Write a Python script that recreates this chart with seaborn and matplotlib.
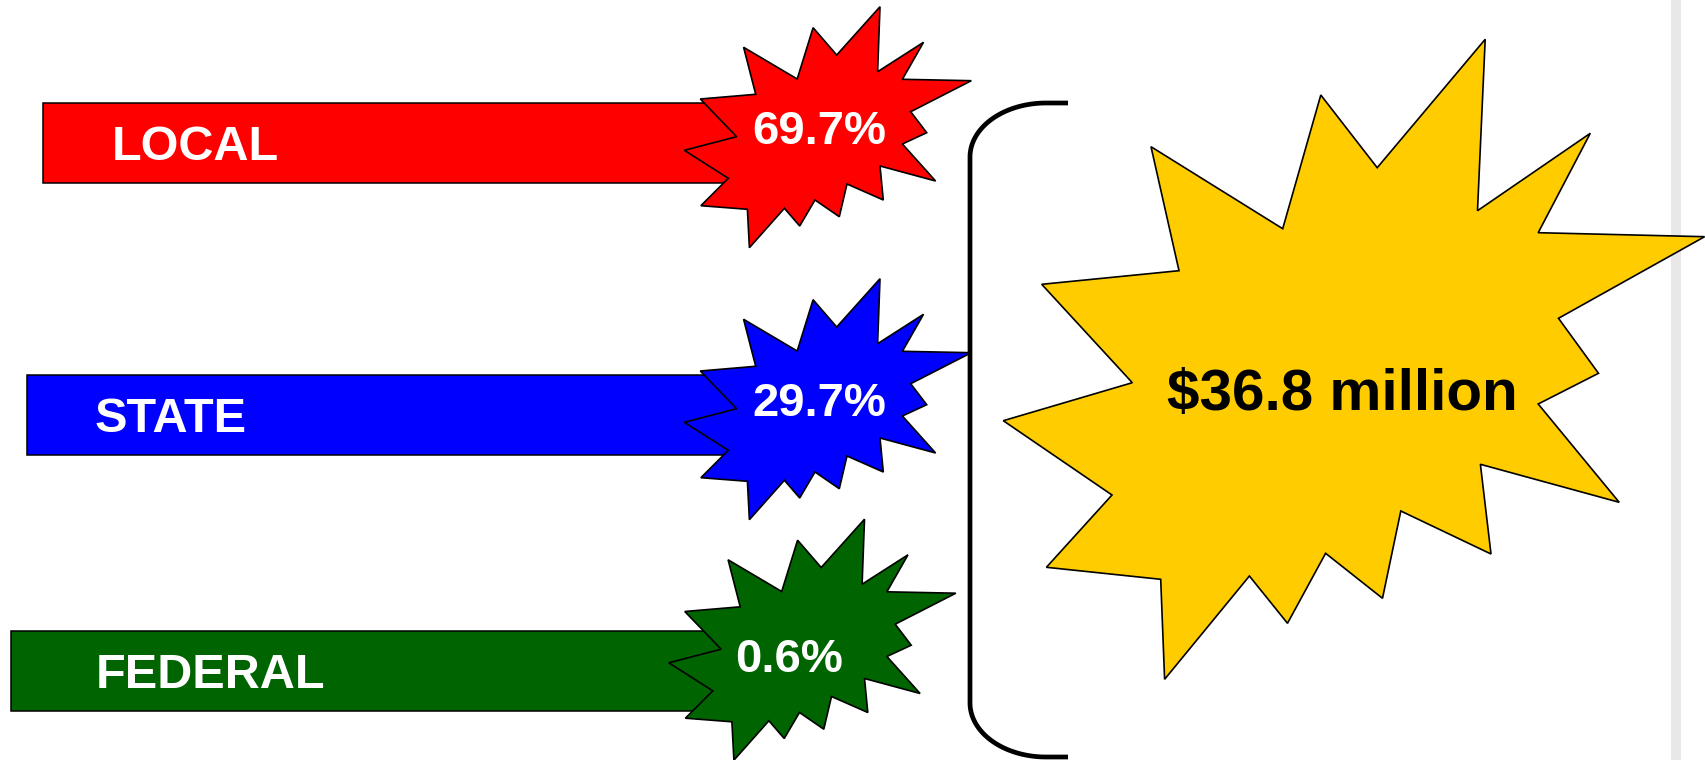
import numpy as np
import matplotlib
matplotlib.use("Agg")
import matplotlib.pyplot as plt
from matplotlib.patches import Polygon
import seaborn as sns

# chart values
categories = ["LOCAL", "STATE", "FEDERAL"]
shares = [69.7, 29.7, 0.6]
total_millions = 36.8
bar_colors = ["#FF0000", "#0000FF", "#006400"]

# layout (canvas pixels, y grows downward)
bar_left = [43, 27, 11]
bar_right = [790, 790, 775]
bar_center = [143, 415, 671]
bar_height = 80
label_pos = [(112, 160), (95, 432), (96, 688)]
star_anchor = [(818, 128), (818, 400), (802.5, 640.5)]
pct_pos = [(819, 144), (819, 416.5), (789, 672.5)]

# starburst outline relative to its anchor
star_shape = np.array([
    (62, -121.3), (59.6, -56.3), (105.5, -85.7), (84.4, -48.7), (153.3, -47.3),
    (92.7, -16.3), (108.7, 4.7), (84.4, 16), (117.6, 53), (62, 38),
    (65.3, 72), (29, 56), (21.3, 88.7), (-3, 72), (-18.3, 98),
    (-33.6, 80.3), (-68.6, 119.7), (-70.6, 81.3), (-117.1, 77.7), (-89.7, 50.3),
    (-133.7, 22.3), (-81.4, 8.7), (-117.7, -29), (-62.3, -33.7), (-74.4, -80.7),
    (-20.8, -49), (-4.9, -100.3), (18.7, -73),
])

big_star = np.array([
    (1485.2, 39.3), (1477.5, 210.7), (1590.3, 133.3), (1538.2, 232.7),
    (1704.6, 236.7), (1558.5, 318.3), (1598.5, 373.3), (1538.2, 404),
    (1619.2, 502.3), (1480.4, 464.3), (1491, 554), (1400.8, 511),
    (1382.5, 598.3), (1325.6, 553.3), (1287.5, 623.3), (1249.4, 576),
    (1164.6, 679.3), (1160.7, 579.3), (1046.4, 567.3), (1112, 495),
    (1003.3, 420.7), (1132.3, 382.7), (1041.7, 284.3), (1179, 270.7),
    (1151, 146.7), (1282.7, 228.7), (1320.8, 95), (1377.2, 167.7),
])

sns.set_style("white")
plt.rcParams['font.family'] = ['Liberation Sans', 'DejaVu Sans']

fig = plt.figure(figsize=(17.06, 7.60), dpi=100)
ax = fig.add_axes([0, 0, 1, 1])
ax.set_xlim(0, 1706)
ax.set_ylim(760, 0)
ax.axis('off')

# grey strip on the right edge
ax.axvspan(1671, 1681, color="#e8e8e8", zorder=0, lw=0)

# bars
ax.barh(bar_center, np.array(bar_right) - np.array(bar_left), left=bar_left,
        height=bar_height, color=bar_colors, edgecolor="black", linewidth=1.1,
        zorder=1)

for i, cat in enumerate(categories):
    ax.text(label_pos[i][0], label_pos[i][1], cat, color="white", fontsize=35,
            fontweight="bold", ha="left", va="baseline", zorder=4)
    ax_, ay_ = star_anchor[i]
    ax.add_patch(Polygon(star_shape + [ax_, ay_], closed=True,
                         facecolor=bar_colors[i], edgecolor="black",
                         linewidth=1.2, zorder=2))
    ax.text(pct_pos[i][0], pct_pos[i][1], f"{shares[i]:.1f}%", color="white",
            fontsize=34, fontweight="bold", ha="center", va="baseline", zorder=4)

# bracket
t = np.linspace(0, np.pi / 2, 40)
rx, ry = 76, 54
top = np.column_stack([1046 - rx * np.sin(t), 157 - ry * np.cos(t)])
bot = np.column_stack([970 + rx * (1 - np.cos(t)), 703 + ry * np.sin(t)])
path = np.vstack([[(1068, 103)], top, bot, [(1068, 757)]])
ax.plot(path[:, 0], path[:, 1], color="black", lw=3.4, solid_capstyle="butt",
        zorder=2)

# total starburst
ax.add_patch(Polygon(big_star, closed=True, facecolor="#FFCC00",
                     edgecolor="black", linewidth=1.2, zorder=3))
ax.text(1342.5, 410, f"${total_millions} million", color="black", fontsize=42,
        fontweight="bold", ha="center", va="baseline", zorder=4)

plt.savefig("out.png", dpi=100)
